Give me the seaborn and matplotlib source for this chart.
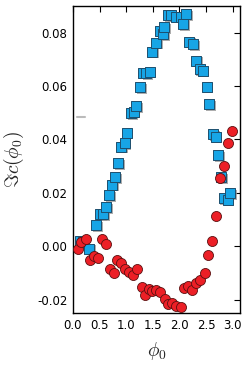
import matplotlib
matplotlib.use('Agg')
import matplotlib.pyplot as plt
import matplotlib.patheffects as pe
import seaborn as sns
import pandas as pd

# blue squares
blue_x = [0.13, 0.19, 0.31, 0.44, 0.51, 0.57, 0.62, 0.68, 0.74, 0.79, 0.85, 0.91,
          0.97, 1.01, 1.10, 1.14, 1.19, 1.26, 1.32, 1.38, 1.44, 1.49, 1.56, 1.63,
          1.69, 1.72, 1.79, 1.85, 1.94, 2.04, 2.07, 2.13, 2.19, 2.26, 2.32, 2.38,
          2.44, 2.51, 2.56, 2.63, 2.68, 2.73, 2.79, 2.83, 2.91, 2.96]
blue_y = [0.0021, 0.0016, -0.0009, 0.0079, 0.0121, 0.0121, 0.0146, 0.0191, 0.0231,
          0.0259, 0.0311, 0.0373, 0.0387, 0.0425, 0.0498, 0.0504, 0.0525, 0.0595,
          0.0650, 0.0648, 0.0654, 0.0729, 0.0763, 0.0808, 0.0795, 0.0820, 0.0866,
          0.0866, 0.0860, 0.0860, 0.0833, 0.0870, 0.0766, 0.0758, 0.0695, 0.0663,
          0.0658, 0.0598, 0.0533, 0.0421, 0.0410, 0.0341, 0.0259, 0.0179, 0.0174,
          0.0198]

# red circles
red_x = [0.10, 0.16, 0.24, 0.32, 0.39, 0.48, 0.54, 0.62, 0.69, 0.77, 0.83, 0.91,
         0.98, 1.06, 1.13, 1.21, 1.29, 1.35, 1.43, 1.49, 1.57, 1.64, 1.73, 1.79,
         1.87, 1.94, 2.03, 2.09, 2.16, 2.24, 2.32, 2.39, 2.48, 2.54, 2.61, 2.69,
         2.76, 2.83, 2.91, 2.99]
red_y = [-0.0009, 0.0016, 0.0029, -0.0053, -0.0038, -0.0043, 0.0029, 0.0010,
         -0.0084, -0.0100, -0.0053, -0.0063, -0.0087, -0.0096, -0.0106, -0.0087,
         -0.0152, -0.0184, -0.0159, -0.0169, -0.0165, -0.0171, -0.0196, -0.0218,
         -0.0213, -0.0225, -0.0228, -0.0155, -0.0150, -0.0163, -0.0138, -0.0128,
         -0.0100, -0.0034, 0.0020, 0.0113, 0.0254, 0.0300, 0.0388, 0.0433]

# stray grey dash near the left edge
dash_x = [0.07, 0.22]
dash_y = [0.0485, 0.0485]

BLUE = "#17a5e6"
RED = "#ec1f26"

sns.set_style("white")
plt.rcParams.update({
    'font.family': ['DejaVu Sans'],
    'mathtext.fontset': 'cm',
    'xtick.direction': 'in', 'ytick.direction': 'in',
    'xtick.top': True, 'ytick.right': True,
    'xtick.major.size': 4, 'ytick.major.size': 4,
    'axes.edgecolor': 'black', 'axes.linewidth': 1.0,
})

blue = pd.DataFrame({'phi': blue_x, 'val': blue_y})
red = pd.DataFrame({'phi': red_x, 'val': red_y})

fig = plt.figure(figsize=(2.49, 3.65), dpi=100)
ax = fig.add_axes([0.293, 0.1425, 0.671, 0.841])

ax.plot(dash_x, dash_y, color='#bbbbbb', lw=1.5)
sns.scatterplot(data=blue, x='phi', y='val', marker='s', s=52, color=BLUE,
                edgecolor='#1d4f6e', linewidth=0.7, ax=ax, zorder=3)
ax.collections[-1].set_path_effects([
    pe.SimplePatchShadow(offset=(1.2, -1.2), shadow_rgbFace='#999999', alpha=0.8),
    pe.Normal()])
sns.scatterplot(data=red, x='phi', y='val', marker='o', s=52, color=RED,
                edgecolor='#5a1010', linewidth=0.6, ax=ax, zorder=4)

ax.set_xlim(0, 3.14)
ax.set_ylim(-0.025, 0.09)
ax.set_xticks([0.0, 0.5, 1.0, 1.5, 2.0, 2.5, 3.0])
ax.set_yticks([-0.02, 0.00, 0.02, 0.04, 0.06, 0.08])
ax.xaxis.set_major_formatter(matplotlib.ticker.FormatStrFormatter('%.1f'))
ax.yaxis.set_major_formatter(matplotlib.ticker.FormatStrFormatter('%.2f'))
ax.tick_params(labelsize=8.5, width=0.8, colors='black', pad=4)
ax.set_xlabel(r'$\phi_0$', fontsize=14, labelpad=6)
ax.set_ylabel(r'$\Im c(\phi_0)$', fontsize=14, labelpad=8)

fig.savefig('out.png', dpi=100)
